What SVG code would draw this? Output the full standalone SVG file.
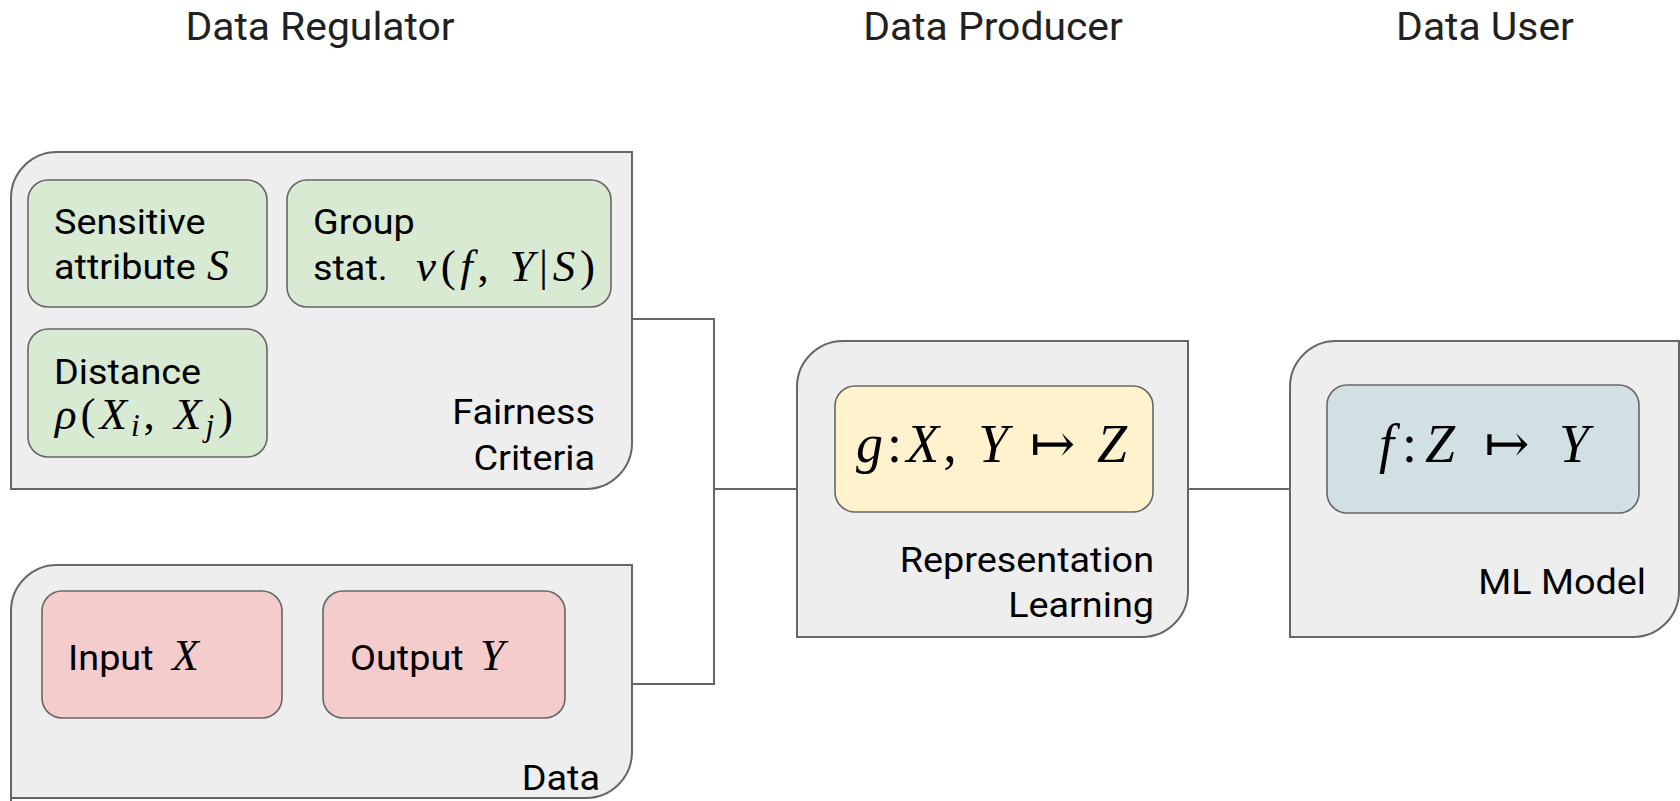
<svg xmlns="http://www.w3.org/2000/svg" width="1680" height="801" viewBox="0 0 1680 801">
  <style>
    .panel { fill: #eeeeee; stroke: #666666; stroke-width: 2; }
    .card { stroke: #666666; stroke-width: 1.6; }
    .green { fill: #d9ead3; }
    .pink { fill: #f4cccc; }
    .yellow { fill: #fff2cc; }
    .blue { fill: #d0e0e3; }
    .head { font-family: Roboto, "Liberation Sans", sans-serif; font-size: 38px; fill: #212121; text-anchor: middle; }
    .lbl { font-family: Roboto, "Liberation Sans", sans-serif; font-size: 35px; fill: #000000; }
    .cap { font-family: Roboto, "Liberation Sans", sans-serif; font-size: 35px; fill: #000000; text-anchor: end; }
    .math { font-family: "Liberation Serif", "DejaVu Serif", serif; fill: #000000; }
    .it { font-style: italic; }
    .wire { fill: none; stroke: #666666; stroke-width: 2; }
  </style>

  <!-- column headings (slightly widened lettering) -->
  <g id="headings">
    <text class="head" transform="translate(320,40) scale(1.075,1)">Data Regulator</text>
    <text class="head" transform="translate(993,40) scale(1.075,1)">Data Producer</text>
    <text class="head" transform="translate(1485,40) scale(1.075,1)">Data User</text>
  </g>

  <!-- connectors -->
  <g id="connectors">
    <polyline class="wire" points="632,319 714,319 714,684 632,684"/>
    <line class="wire" x1="714" y1="489" x2="797" y2="489"/>
    <line class="wire" x1="1188" y1="489" x2="1290" y2="489"/>
  </g>

  <!-- Fairness criteria panel -->
  <g id="fairness-criteria">
    <path class="panel" d="M11,489 V198 A46,46 0 0 1 57,152 H632 V443 A46,46 0 0 1 586,489 Z"/>
    <text class="cap" transform="translate(595,424) scale(1.08,1)">Fairness</text>
    <text class="cap" transform="translate(595,470) scale(1.08,1)">Criteria</text>
  </g>

  <g id="sensitive-attribute">
    <rect class="card green" x="28" y="180" width="239" height="127" rx="20"/>
    <text class="lbl" transform="translate(54,234) scale(1.08,1)">Sensitive</text>
    <text class="lbl" transform="translate(54,279) scale(1.08,1)">attribute</text>
    <text class="math it" font-size="44" x="207" y="280">S</text>
  </g>

  <g id="group-stat">
    <rect class="card green" x="287" y="180" width="324" height="127" rx="20"/>
    <text class="lbl" transform="translate(313,234) scale(1.08,1)">Group</text>
    <text class="lbl" transform="translate(313,280) scale(1.08,1)">stat.</text>
    <text class="math" font-size="45" x="416" y="281" textLength="179" lengthAdjust="spacing"><tspan class="it">ν</tspan>(<tspan class="it">f</tspan>, <tspan class="it">Y</tspan>|<tspan class="it">S</tspan>)</text>
  </g>

  <g id="distance">
    <rect class="card green" x="28" y="329" width="239" height="128" rx="20"/>
    <text class="lbl" transform="translate(54,384) scale(1.08,1)">Distance</text>
    <text class="math" font-size="45" x="55" y="429" textLength="178" lengthAdjust="spacing"><tspan class="it">ρ</tspan>(<tspan class="it">X</tspan><tspan class="it" font-size="31" dy="7">i</tspan><tspan dy="-7">, </tspan><tspan class="it">X</tspan><tspan class="it" font-size="31" dy="7">j</tspan><tspan dy="-7">)</tspan></text>
  </g>

  <!-- Data panel -->
  <g id="data">
    <path class="panel" d="M11,801 V611 A46,46 0 0 1 57,565 H632 V752 A46,46 0 0 1 586,798 H11"/>
    <text class="cap" transform="translate(600,790) scale(1.08,1)">Data</text>
  </g>

  <g id="input-x">
    <rect class="card pink" x="42" y="591" width="240" height="127" rx="20"/>
    <text class="lbl" transform="translate(68,670) scale(1.08,1)">Input</text>
    <text class="math it" font-size="44" x="172" y="670">X</text>
  </g>

  <g id="output-y">
    <rect class="card pink" x="323" y="591" width="242" height="127" rx="20"/>
    <text class="lbl" transform="translate(350,670) scale(1.08,1)">Output</text>
    <text class="math it" font-size="44" x="480" y="670">Y</text>
  </g>

  <!-- Representation learning panel -->
  <g id="representation-learning">
    <path class="panel" d="M797,637 V387 A46,46 0 0 1 843,341 H1188 V591 A46,46 0 0 1 1142,637 Z"/>
    <rect class="card yellow" x="835" y="386" width="318" height="126" rx="20"/>
    <text class="math" font-size="54" x="856" y="462" textLength="271" lengthAdjust="spacing"><tspan class="it">g</tspan>:<tspan class="it">X</tspan>, <tspan class="it">Y</tspan> ↦ <tspan class="it">Z</tspan></text>
    <text class="cap" transform="translate(1154,572) scale(1.08,1)">Representation</text>
    <text class="cap" transform="translate(1154,617) scale(1.08,1)">Learning</text>
  </g>

  <!-- ML model panel -->
  <g id="ml-model">
    <path class="panel" d="M1290,637 V387 A46,46 0 0 1 1336,341 H1679 V591 A46,46 0 0 1 1633,637 Z"/>
    <rect class="card blue" x="1327" y="385" width="312" height="128" rx="20"/>
    <text class="math" font-size="54" x="1379" y="462" textLength="210" lengthAdjust="spacing"><tspan class="it">f</tspan>:<tspan class="it">Z</tspan> ↦ <tspan class="it">Y</tspan></text>
    <text class="cap" transform="translate(1646,594) scale(1.08,1)">ML Model</text>
  </g>
</svg>
